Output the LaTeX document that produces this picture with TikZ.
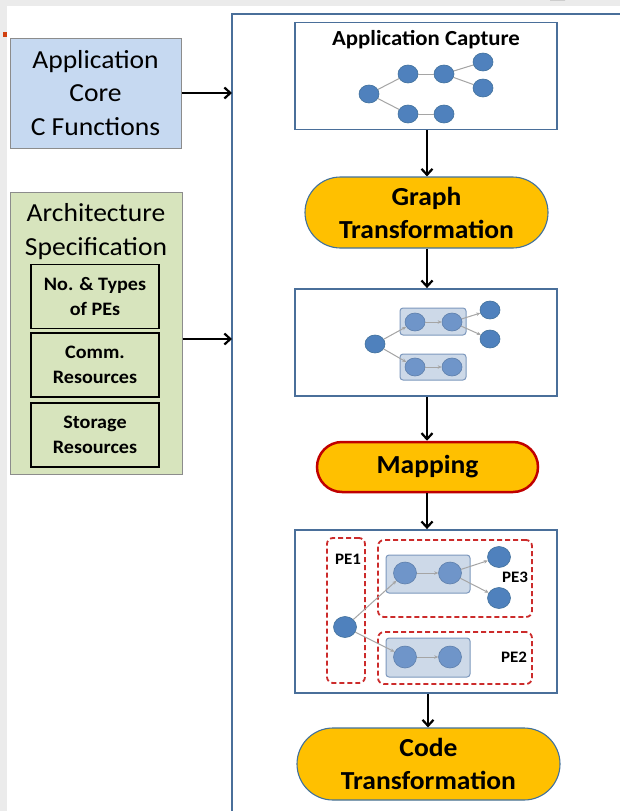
\documentclass[tikz,border=0pt]{standalone}
\usepackage{fontspec}
\setmainfont{Carlito}[FakeStretch=1.06]
\usetikzlibrary{arrows.meta,shapes.misc,shapes.geometric}
\definecolor{bggrey}{HTML}{EBEBEB}
\definecolor{appblue}{HTML}{C6D9F1}
\definecolor{archgreen}{HTML}{D7E4BD}
\definecolor{boxgrey}{HTML}{8C8C8C}
\definecolor{frameblue}{HTML}{4A6F9A}
\definecolor{pill}{HTML}{FFC000}
\definecolor{pillborder}{HTML}{41719C}
\definecolor{mapred}{HTML}{C00000}
\definecolor{nodefill}{HTML}{4F81BD}
\definecolor{nodeedge}{HTML}{41719C}
\definecolor{nodelight}{HTML}{6F95C9}
\definecolor{grpfill}{HTML}{CDD9E8}
\definecolor{grpedge}{HTML}{7D98BD}
\definecolor{edgegrey}{HTML}{A5A5A5}
\definecolor{pered}{HTML}{CC2B2B}
\definecolor{markred}{HTML}{D04010}
\tikzset{
  bigtxt/.style={font=\fontsize{26}{33.5}\selectfont, align=center, inner sep=0pt},
  appbox/.style={draw=boxgrey, fill=appblue, line width=1pt, minimum width=171, minimum height=110, bigtxt},
  archbox/.style={draw=boxgrey, fill=archgreen, line width=1pt, minimum width=172, minimum height=282},
  specbox/.style={draw=black, line width=1.8pt, minimum width=128, minimum height=64, inner sep=0pt,
    align=center, font=\bfseries\fontsize{19}{25}\selectfont},
  stagebox/.style={draw=frameblue, line width=1.8pt, fill=white, minimum width=262},
  pillnode/.style={rounded rectangle, fill=pill, draw=pillborder, line width=1.1pt, align=center,
    inner sep=0pt, font=\bfseries\fontsize{26}{33}\selectfont},
  arr/.style={draw=black, line width=2.2pt, -{Straight Barb[length=6pt,width=11pt,line width=2.2pt]}},
  gn/.style={ellipse, fill=nodefill, draw=nodeedge, line width=0.6pt, minimum width=20, minimum height=18, inner sep=0pt},
  gnb/.style={gn, minimum width=23, minimum height=21},
  gl/.style={gn, fill=nodelight, draw=nodelight!85!black},
  glb/.style={gl, minimum width=23, minimum height=22},
  grp/.style={draw=grpedge, fill=grpfill, line width=1pt, rounded corners=3pt, inner sep=0pt},
  ed/.style={draw=edgegrey, line width=1pt},
  eda/.style={ed, -{Stealth[length=4pt,width=3.5pt]}},
  pebox/.style={draw=pered, line width=1.8pt, dash pattern=on 5pt off 3pt, rounded corners=6pt, inner sep=0pt},
  pelab/.style={font=\bfseries\fontsize{16}{16}\selectfont, inner sep=0pt},
  ttl/.style={font=\bfseries\fontsize{21.5}{21.5}\selectfont, inner sep=0pt}
}
\begin{document}
\begin{tikzpicture}[x=1pt,y=-1pt]
\useasboundingbox (0,0) rectangle (620,811);
% background
\fill[bggrey] (0,0) rectangle (620,811);
\fill[white] (7,6) rectangle (620,811);
\fill[markred] (3,32) rectangle (7,37);
\fill[black] (550,0) arc[start angle=180,end angle=360,x radius=7.5,y radius=3] -- cycle;
% outer frame
\draw[frameblue, line width=1.8pt] (232,811) -- (232,14) -- (621,14);
\coordinate (fr1) at (232,93);
\coordinate (fr2) at (232,339);

% left inputs
\node[appbox] (app) at (95.5,93) {Application\\Core\\C Functions};
\node[archbox] (arch) at (96,333) {};
\node[bigtxt, font=\fontsize{26}{34}\selectfont] (archt) at (96,232) {Architecture\\Specification};
\node[specbox] (pes) at (95,296.5) {No. \& Types\\of PEs};
\node[specbox] (comm) at (95,365) {Comm.\\Resources};
\node[specbox] (stor) at (95,435) {Storage\\Resources};
\draw[arr] (app.east) -- (fr1);
\draw[arr] (arch.east |- fr2) -- (fr2);

% stage 1: application capture
\node[stagebox, minimum height=107] (cap) at (426,76) {};
\node[ttl] (capt) at (426,40) {Application Capture};
\node[gn] (a1) at (369,94) {};
\node[gn] (a2) at (408,74) {};
\node[gn] (a3) at (444,74) {};
\node[gn] (a4) at (483,62) {};
\node[gn] (a5) at (483,88) {};
\node[gn] (a6) at (408,114) {};
\node[gn] (a7) at (444,114) {};
\draw[ed] (a1) -- (a2);
\draw[ed] (a1) -- (a6);
\draw[ed] (a2) -- (a3);
\draw[ed] (a3) -- (a4);
\draw[ed] (a3) -- (a5);
\draw[ed] (a6) -- (a7);

% graph transformation
\node[pillnode, minimum width=243, minimum height=71] (gt) at (426.5,212.5) {Graph\\Transformation};

% stage 2
\node[stagebox, minimum height=107] (gbox) at (426,342.5) {};
\node[grp, minimum width=66, minimum height=27] (ga) at (433,321.5) {};
\node[grp, minimum width=66, minimum height=26] (gb) at (433,367) {};
\node[gn] (b1) at (375,344) {};
\node[gl] (b2) at (415,322) {};
\node[gl] (b3) at (452,322) {};
\node[gn] (b4) at (490,310) {};
\node[gn] (b5) at (490,339) {};
\node[gl] (b6) at (415,367) {};
\node[gl] (b7) at (452,367) {};
\draw[eda] (b1) -- (b2);
\draw[eda] (b1) -- (b6);
\draw[eda] (b2) -- (b3);
\draw[eda] (b3) -- (b4);
\draw[eda] (b3) -- (b5);
\draw[eda] (b6) -- (b7);

% mapping
\node[pillnode, draw=mapred, line width=2.5pt, minimum width=221, minimum height=50] (map) at (427.5,467) {Mapping};

% stage 3
\node[stagebox, minimum height=163] (mbox) at (426,611.5) {};
\node[pebox, minimum width=38, minimum height=145] (pe1) at (346,610.5) {};
\node[pebox, minimum width=154, minimum height=77] (pe3) at (455,578.5) {};
\node[pebox, minimum width=154, minimum height=52] (pe2) at (455,658) {};
\node[pelab] (pe1l) at (348,559) {PE1};
\node[pelab] (pe3l) at (515,577) {PE3};
\node[pelab] (pe2l) at (514,657) {PE2};
\node[grp, minimum width=84, minimum height=38] (ma) at (428,574) {};
\node[grp, minimum width=84, minimum height=39] (mb) at (428,657.5) {};
\node[gnb] (c1) at (345,627) {};
\node[glb] (c2) at (405,573) {};
\node[glb] (c3) at (450,573) {};
\node[gnb] (c4) at (499,557) {};
\node[gnb] (c5) at (499,598) {};
\node[glb] (c6) at (405,657) {};
\node[glb] (c7) at (450,657) {};
\draw[eda] (c1) -- (c2);
\draw[eda] (c1) -- (c6);
\draw[eda] (c2) -- (c3);
\draw[eda] (c3) -- (c4);
\draw[eda] (c3) -- (c5);
\draw[eda] (c6) -- (c7);

% code transformation
\node[pillnode, minimum width=263, minimum height=72] (code) at (428.5,764) {Code\\Transformation};

% flow arrows
\draw[arr] (cap.south -| 427,0) -- (gt.north -| 427,0);
\draw[arr] (gt.south -| 427,0) -- (gbox.north -| 427,0);
\draw[arr] (gbox.south -| 427,0) -- (map.north -| 427,0);
\draw[arr] (map.south -| 427,0) -- (mbox.north -| 427,0);
\draw[arr] (mbox.south -| 428,0) -- (code.north -| 428,0);
\end{tikzpicture}
\end{document}
